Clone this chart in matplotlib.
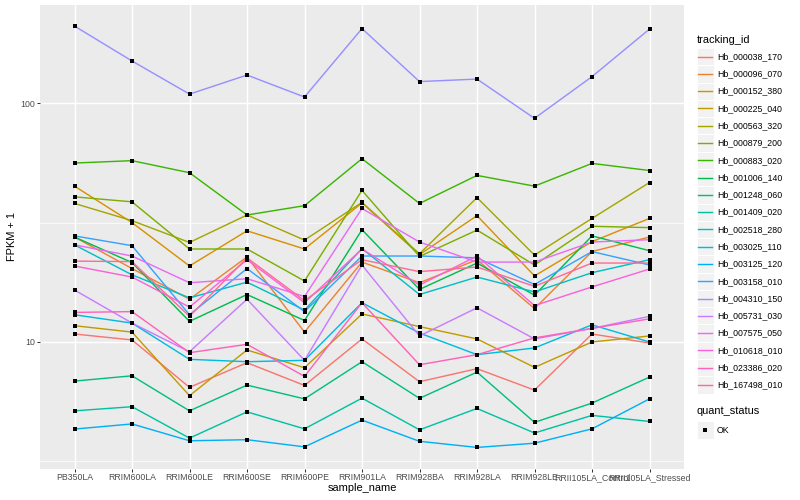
import numpy as np
import matplotlib
matplotlib.use("Agg")
import matplotlib.pyplot as plt
from matplotlib.patches import Rectangle
from matplotlib.lines import Line2D

plt.rcParams['font.family'] = ['Liberation Sans', 'DejaVu Sans']

samples = ["PB350LA", "RRIM600LA", "RRIM600LE", "RRIM600SE", "RRIM600PE", "RRIM901LA",
           "RRIM928BA", "RRIM928LA", "RRIM928LE", "RRII105LA_Control", "RRII105LA_Stressed"]

tracking_ids = ["Hb_000038_170", "Hb_000096_070", "Hb_000152_380", "Hb_000225_040",
                "Hb_000563_320", "Hb_000879_200", "Hb_000883_020", "Hb_001006_140",
                "Hb_001248_060", "Hb_001409_020", "Hb_002518_280", "Hb_003025_110",
                "Hb_003125_120", "Hb_003158_010", "Hb_004310_150", "Hb_005731_030",
                "Hb_007575_050", "Hb_010618_010", "Hb_023386_020", "Hb_167498_010"]

hb_000038_170 = [10.8, 10.2, 6.46, 8.19, 6.58, 10.3, 6.82, 7.73, 6.29, 10.8, 9.9]
hb_000096_070 = [27.5, 20.3, 15.1, 22.7, 11.0, 21.6, 17.7, 22.1, 13.8, 23.9, 27.5]
hb_000152_380 = [44.9, 31.6, 20.8, 29.2, 24.5, 38.2, 23.2, 33.8, 18.9, 26.3, 32.9]
hb_000225_040 = [11.7, 11.0, 5.96, 9.26, 7.8, 13.1, 11.6, 10.3, 7.83, 10.0, 10.6]
hb_000563_320 = [38.0, 32.2, 26.1, 34.0, 26.7, 38.4, 23.4, 40.2, 23.1, 32.9, 46.5]
hb_000879_200 = [40.5, 38.6, 24.5, 24.5, 18.0, 43.1, 22.8, 29.4, 21.0, 30.5, 30.1]
hb_000883_020 = [56.1, 57.4, 51.1, 34.0, 37.2, 58.5, 38.0, 49.8, 44.9, 55.9, 52.2]
hb_001006_140 = [27.5, 21.5, 12.2, 15.8, 12.3, 29.5, 16.6, 21.4, 15.7, 27.8, 24.1]
hb_001248_060 = [6.86, 7.22, 5.15, 6.60, 5.78, 8.27, 5.81, 7.48, 4.61, 5.55, 7.13]
hb_001409_020 = [5.15, 5.36, 3.96, 5.10, 4.33, 5.82, 4.29, 5.27, 4.16, 4.93, 4.65]
hb_002518_280 = [25.5, 19.1, 15.3, 17.8, 13.6, 24.6, 15.8, 18.7, 16.2, 19.5, 22.1]
hb_003025_110 = [13.0, 12.0, 8.46, 8.27, 8.38, 14.6, 10.9, 8.85, 9.44, 11.8, 10.0]
hb_003125_120 = [4.32, 4.54, 3.86, 3.90, 3.64, 4.71, 3.84, 3.62, 3.77, 4.33, 5.78]
hb_003158_010 = [27.8, 25.3, 13.0, 20.3, 13.4, 22.9, 22.9, 22.5, 17.4, 23.9, 21.0]
hb_004310_150 = [210, 150, 109, 131, 106, 205, 123, 126, 86.3, 129, 204]
hb_005731_030 = [16.5, 12.0, 9.1, 15.1, 8.38, 21.0, 10.6, 13.9, 10.3, 11.4, 12.8]
hb_007575_050 = [25.5, 22.9, 17.7, 18.4, 15.5, 36.2, 26.2, 21.6, 21.6, 26.2, 26.8]
hb_010618_010 = [20.8, 18.7, 14.0, 22.1, 14.6, 24.5, 17.3, 22.9, 14.2, 17.0, 20.2]
hb_023386_020 = [13.3, 13.4, 9.02, 9.78, 7.18, 14.6, 8.03, 8.85, 10.4, 11.4, 12.5]
hb_167498_010 = [21.8, 21.7, 12.8, 22.5, 14.9, 22.1, 19.7, 20.6, 17.1, 21.4, 21.4]

series = [hb_000038_170, hb_000096_070, hb_000152_380, hb_000225_040, hb_000563_320,
          hb_000879_200, hb_000883_020, hb_001006_140, hb_001248_060, hb_001409_020,
          hb_002518_280, hb_003025_110, hb_003125_120, hb_003158_010, hb_004310_150,
          hb_005731_030, hb_007575_050, hb_010618_010, hb_023386_020, hb_167498_010]

quant_levels = ["OK"]


def hcl(h, c=100.0, l=65.0):
    hr = np.deg2rad(h)
    u = c * np.cos(hr)
    v = c * np.sin(hr)
    Y = ((l + 16) / 116) ** 3
    Xn, Yn, Zn = 95.047, 100.0, 108.883
    un = 4 * Xn / (Xn + 15 * Yn + 3 * Zn)
    vn = 9 * Yn / (Xn + 15 * Yn + 3 * Zn)
    up = u / (13 * l) + un
    vp = v / (13 * l) + vn
    X = 9 * Y * up / (4 * vp)
    Z = -X / 3 - 5 * Y + 3 * Y / vp
    r = 3.240479 * X - 1.537150 * Y - 0.498535 * Z
    g = -0.969256 * X + 1.875992 * Y + 0.041556 * Z
    b = 0.055648 * X - 0.204043 * Y + 1.057311 * Z
    out = []
    for ch in (r, g, b):
        val = 1.055 * ch ** (1 / 2.4) - 0.055 if ch > 0.0031308 else 12.92 * ch
        out.append(min(max(val, 0), 1))
    return tuple(out)


n = len(tracking_ids)
colors = [hcl(15 + 360 * i / n) for i in range(n)]

W, H = 800, 500
fig = plt.figure(figsize=(W / 100, H / 100), dpi=100)
px = 0.72  # points per pixel (R 72dpi -> mpl 100dpi)

pl, pr, pt, pb = 40, 684, 5, 468.5
ax = fig.add_axes([pl / W, 1 - pb / H, (pr - pl) / W, (pb - pt) / H])
ax.set_facecolor('#EBEBEB')
for s in ax.spines.values():
    s.set_visible(False)

x = np.arange(len(samples))
for vals, col in zip(series, colors):
    ax.plot(x, vals, color=col, lw=1.42 * px, solid_capstyle='butt', zorder=3)
for vals in series:
    ax.plot(x, vals, ls='none', marker='s', ms=4.4 * px, color='black', mec='black', mew=0, zorder=4)

ax.set_yscale('log')
allv = np.concatenate([np.asarray(s, float) for s in series])
lo, hi = np.log10(allv.min()), np.log10(allv.max())
pad = 0.05 * (hi - lo)
ax.set_ylim(10 ** (lo - pad), 10 ** (hi + pad))
ax.set_xlim(-0.6, len(samples) - 1 + 0.6)

ax.set_yticks([10, 100])
ax.set_yticklabels(["10", "100"])
ax.yaxis.set_minor_locator(matplotlib.ticker.FixedLocator([10 ** 0.5, 10 ** 1.5, 10 ** 2.5]))
ax.yaxis.set_minor_formatter(matplotlib.ticker.NullFormatter())
ax.set_xticks(x)
ax.set_xticklabels(samples)

ax.grid(which='major', color='white', lw=1.42 * px)
ax.grid(which='minor', axis='y', color='white', lw=0.71 * px)
ax.set_axisbelow(True)
ax.tick_params(which='major', length=2.75 * px, width=1.0 * px, color='#333333',
               labelsize=8.8 * px, labelcolor='#4D4D4D', pad=2.2 * px)
ax.tick_params(which='minor', length=0)

fig.text((pl + pr) / 2 / W, 1 - 488 / H, "sample_name", ha='center', va='center', fontsize=11 * px)
fig.text(12 / W, 1 - (pt + pb) / 2 / H, "FPKM + 1", ha='center', va='center', rotation=90, fontsize=11 * px)

# legend: tracking_id
kx0, kw = 696.5, 17.28
fig.text(kx0 / W, 1 - 40 / H, "tracking_id", ha='left', va='center', fontsize=11 * px)
y0 = 48.0
for i, (tid, col) in enumerate(zip(tracking_ids, colors)):
    top = y0 + i * kw
    fig.patches.append(Rectangle((kx0 / W, 1 - (top + kw) / H), kw / W, kw / H,
                                 transform=fig.transFigure, facecolor='#F2F2F2',
                                 edgecolor='white', lw=0.7, zorder=1))
    yc = 1 - (top + kw / 2) / H
    fig.lines.append(Line2D([(kx0 + 1.7) / W, (kx0 + kw - 1.7) / W], [yc, yc],
                            transform=fig.transFigure, color=col, lw=1.42 * px, zorder=2))
    fig.text((kx0 + kw + 3.0) / W, yc, tid, ha='left', va='center', fontsize=8.8 * px)

# legend: quant_status
fig.text(kx0 / W, 1 - 411 / H, "quant_status", ha='left', va='center', fontsize=11 * px)
for j, q in enumerate(quant_levels):
    top = 421.5 + j * kw
    fig.patches.append(Rectangle((kx0 / W, 1 - (top + kw) / H), kw / W, kw / H,
                                 transform=fig.transFigure, facecolor='#F2F2F2',
                                 edgecolor='white', lw=0.7, zorder=1))
    yc = 1 - (top + kw / 2) / H
    fig.lines.append(Line2D([(kx0 + kw / 2) / W], [yc], transform=fig.transFigure,
                            ls='none', marker='s', ms=4.4 * px, color='black', mew=0, zorder=2))
    fig.text((kx0 + kw + 3.0) / W, yc, q, ha='left', va='center', fontsize=8.8 * px)

fig.savefig("out.png", dpi=100)
